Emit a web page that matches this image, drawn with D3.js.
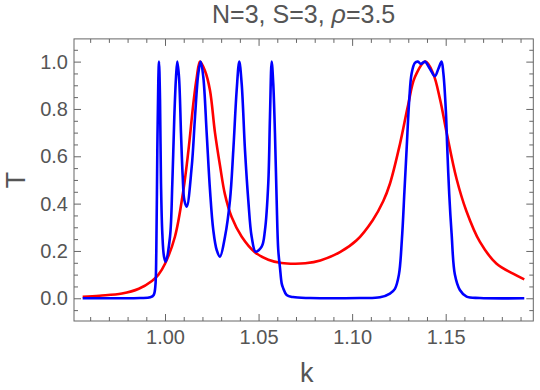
<!DOCTYPE html>
<html>
  <head>
    <meta charset="utf-8">
    <script src="https://d3js.org/d3.v7.min.js"></script>
    <style>
      body { margin: 0; background: #fff; }
      .tick text { fill: #555; font-family: "Liberation Sans", Arial, sans-serif; font-size: 20px; }
      .tick line { stroke: #666; }
      .domain { display: none; }
      .title { fill: #555; font-family: "Liberation Sans", Arial, sans-serif; font-size: 25px; }
      .axis-label { fill: #555; font-family: "Liberation Sans", Arial, sans-serif; font-size: 27px; }
    </style>
  </head>
  <body>
    <svg id="chart" width="540" height="390"></svg>
    <script>
      // values
      const kRed = [0.956, 0.965, 0.977, 0.986, 0.993, 0.9965, 1.000, 1.0053, 1.0098, 1.0125, 1.0151, 1.0169, 1.0187,
        1.0214, 1.024, 1.0267, 1.0294, 1.032, 1.0356, 1.041, 1.048, 1.0552, 1.0623, 1.0694, 1.075, 1.083, 1.0935,
        1.1024, 1.111, 1.1166, 1.1202, 1.1255, 1.130, 1.1335, 1.1392, 1.1433, 1.147, 1.1505, 1.1558, 1.161, 1.1683,
        1.1772, 1.186, 1.192];
      const tRed = [0.006, 0.011, 0.02, 0.04, 0.073, 0.1, 0.146, 0.26, 0.456, 0.624, 0.82, 0.93, 1.0,
        0.96, 0.88, 0.70, 0.56, 0.44, 0.343, 0.26, 0.195, 0.163, 0.149, 0.146, 0.148, 0.16, 0.195,
        0.245, 0.33, 0.41, 0.484, 0.65, 0.82, 0.934, 1.0, 0.95, 0.84, 0.70, 0.505, 0.37, 0.238,
        0.146, 0.104, 0.08];

      const kBlue = [0.956, 0.975, 0.9867, 0.99215, 0.99396, 0.99482, 0.99535, 0.99589, 0.99642, 0.99679, 0.99733,
        0.99786, 0.99856, 0.99947, 1.00037, 1.00267, 1.0039, 1.00497, 1.00588, 1.00657, 1.00748, 1.00855, 1.00946,
        1.01031, 1.01159, 1.01426, 1.01603, 1.01779, 1.01907, 1.02046, 1.02228, 1.02404, 1.0258, 1.02762, 1.02938,
        1.03205, 1.03472, 1.03649, 1.0383, 1.03969, 1.04097, 1.04274, 1.0445, 1.04631, 1.04845, 1.05166, 1.05342,
        1.05518, 1.05609, 1.057, 1.05785, 1.05876, 1.05966, 1.06052, 1.06143, 1.06234, 1.06303, 1.065, 1.06838,
        1.0775, 1.104, 1.1149, 1.12019, 1.12286, 1.125, 1.1266, 1.12794, 1.12912, 1.13051, 1.13179, 1.13355,
        1.13515, 1.13675, 1.13889, 1.14156, 1.14423, 1.1461, 1.1478, 1.14877, 1.1501, 1.15081, 1.15187, 1.15315,
        1.15491, 1.15758, 1.16117, 1.16827, 1.192];
      const tBlue = [0.0, 0.0, 0.001, 0.004, 0.014, 0.05, 0.2, 0.626, 0.92, 1.0, 0.84,
        0.485, 0.274, 0.176, 0.155, 0.26, 0.485, 0.766, 0.935, 1.0, 0.935, 0.696, 0.513,
        0.415, 0.387, 0.555, 0.766, 0.95, 1.0, 0.935, 0.696, 0.457, 0.288, 0.204, 0.176,
        0.26, 0.415, 0.625, 0.88, 1.0, 0.907, 0.626, 0.415, 0.26, 0.197, 0.218, 0.288,
        0.485, 0.766, 1.0, 0.907, 0.696, 0.415, 0.204, 0.13, 0.063, 0.045, 0.014, 0.005,
        0.001, 0.001, 0.004, 0.02, 0.04, 0.1, 0.25, 0.45, 0.63, 0.837, 0.95, 0.995,
        1.0, 0.99, 1.0, 0.97, 0.938, 0.97, 1.0, 0.95, 0.79, 0.64, 0.443, 0.274,
        0.1, 0.035, 0.007, 0.001, 0.0];

      const xTicks = [1.00, 1.05, 1.10, 1.15];
      const xMinor = [0.96, 0.97, 0.98, 0.99, 1.01, 1.02, 1.03, 1.04, 1.06, 1.07, 1.08, 1.09,
        1.11, 1.12, 1.13, 1.14, 1.16, 1.17, 1.18, 1.19];
      const yTicks = [0.0, 0.2, 0.4, 0.6, 0.8, 1.0];
      const yMinor = [-0.05, 0.05, 0.1, 0.15, 0.25, 0.3, 0.35, 0.45, 0.5, 0.55, 0.65, 0.7, 0.75,
        0.85, 0.9, 0.95, 1.05];

      const titleText = 'N=3, S=3, ';
      const frame = { left: 74, right: 533.3, top: 38.9, bottom: 321 };

      const svg = d3.select('#chart');
      const x = d3.scaleLinear().domain([0.95136, 1.19682]).range([frame.left, frame.right]);
      const y = d3.scaleLinear().domain([-0.096, 1.096]).range([frame.bottom, frame.top]);

      const major = 7, minor = 4;
      const fmtX = d3.format('.2f'), fmtY = d3.format('.1f');

      svg.append('g').attr('transform', `translate(0,${frame.bottom})`)
        .call(d3.axisBottom(x).tickValues(xTicks).tickFormat(fmtX).tickSize(-major).tickPadding(9));
      svg.append('g').attr('transform', `translate(0,${frame.bottom})`)
        .call(d3.axisBottom(x).tickValues(xMinor).tickFormat('').tickSize(-minor));
      svg.append('g').attr('transform', `translate(0,${frame.top})`)
        .call(d3.axisTop(x).tickValues(xTicks).tickFormat('').tickSize(-major));
      svg.append('g').attr('transform', `translate(0,${frame.top})`)
        .call(d3.axisTop(x).tickValues(xMinor).tickFormat('').tickSize(-minor));

      svg.append('g').attr('transform', `translate(${frame.left},0)`)
        .call(d3.axisLeft(y).tickValues(yTicks).tickFormat(fmtY).tickSize(-major).tickPadding(6));
      svg.append('g').attr('transform', `translate(${frame.left},0)`)
        .call(d3.axisLeft(y).tickValues(yMinor).tickFormat('').tickSize(-minor));
      svg.append('g').attr('transform', `translate(${frame.right},0)`)
        .call(d3.axisRight(y).tickValues(yTicks).tickFormat('').tickSize(-major));
      svg.append('g').attr('transform', `translate(${frame.right},0)`)
        .call(d3.axisRight(y).tickValues(yMinor).tickFormat('').tickSize(-minor));

      // frame
      svg.append('rect')
        .attr('x', frame.left).attr('y', frame.top)
        .attr('width', frame.right - frame.left).attr('height', frame.bottom - frame.top)
        .attr('fill', 'none').attr('stroke', '#666').attr('stroke-width', 1);

      const line = d3.line()
        .x(d => x(d[0]))
        .y(d => y(d[1]))
        .curve(d3.curveCatmullRom.alpha(0.5));

      svg.append('path')
        .datum(kRed.map((k, i) => [k, tRed[i]]))
        .attr('fill', 'none')
        .attr('stroke', '#ff0000')
        .attr('stroke-width', 2.6)
        .attr('d', line);

      svg.append('path')
        .datum(kBlue.map((k, i) => [k, tBlue[i]]))
        .attr('fill', 'none')
        .attr('stroke', '#0000ff')
        .attr('stroke-width', 2.6)
        .attr('stroke-linejoin', 'round')
        .attr('d', line);

      const title = svg.append('text')
        .attr('class', 'title')
        .attr('x', (frame.left + frame.right) / 2)
        .attr('y', 22.5)
        .attr('text-anchor', 'middle');
      title.append('tspan').text(titleText);
      title.append('tspan').style('font-style', 'italic').text('ρ');
      title.append('tspan').text('=3.5');

      svg.append('text')
        .attr('class', 'axis-label')
        .attr('x', (frame.left + frame.right) / 2 + 3)
        .attr('y', 382)
        .attr('text-anchor', 'middle')
        .text('k');

      svg.append('text')
        .attr('class', 'axis-label')
        .attr('transform', `translate(25,${(frame.top + frame.bottom) / 2}) rotate(-90)`)
        .attr('text-anchor', 'middle')
        .text('T');
    </script>
  </body>
</html>
